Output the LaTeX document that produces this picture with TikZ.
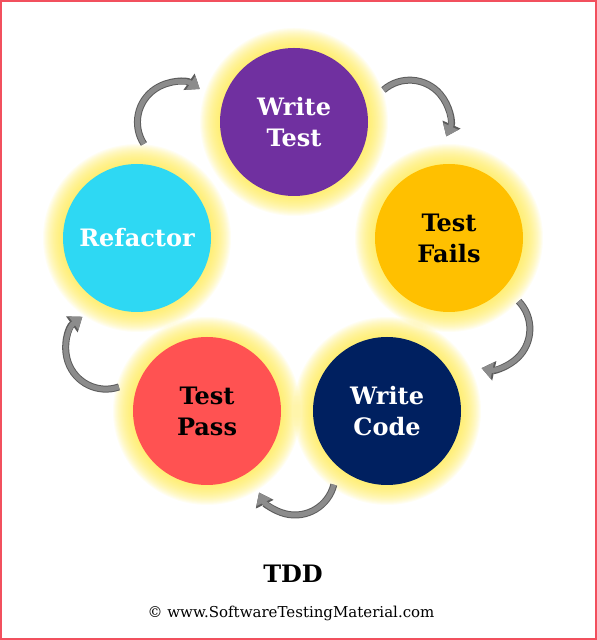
\documentclass[tikz,border=0pt]{standalone}
\usepackage{fontspec}
\setmainfont{DejaVu Serif}
\usetikzlibrary{arrows.meta}

\definecolor{testpurple}{HTML}{7030A0}
\definecolor{failgold}{HTML}{FFC000}
\definecolor{codenavy}{HTML}{002060}
\definecolor{passcoral}{HTML}{FF5252}
\definecolor{refcyan}{HTML}{2ED8F3}
\definecolor{glowyellow}{HTML}{FFE94A}
\definecolor{arrowfill}{HTML}{8C8C8C}
\definecolor{arrowedge}{HTML}{5C5C5C}
\definecolor{framered}{HTML}{F2505E}

\begin{document}
\begin{tikzpicture}[
		x=1pt, y=1pt,
		phase/.style={
			circle,
			minimum size=148pt,
			inner sep=0pt,
			align=center,
			font=\fontsize{24}{31}\selectfont\bfseries
		},
		shaftout/.style={line width=7pt, arrowedge, -{Triangle[length=13pt, width=19pt]}},
		shaftin/.style={line width=5pt, arrowfill, -{Triangle[length=11pt, width=16pt]}}
		]
		
		% Page and frame
		\useasboundingbox (0,0) rectangle (597,640);
		\draw[framered, line width=2pt] (1,1) rectangle (596,639);
		
		% Centre of the cycle
		\coordinate (hub) at (295,356);
		
		% Phase positions
		\coordinate (pwtest) at (294,518);
		\coordinate (ptfails) at (449,402);
		\coordinate (pwcode) at (387,229);
		\coordinate (ptpass) at (207,229);
		\coordinate (prefac) at (137,402);
		
		% Yellow glow
		\foreach \p in {pwtest,ptfails,pwcode,ptpass,prefac}
		\foreach \r in {94,93,...,75}
		\fill[glowyellow, opacity=0.065] (\p) circle (\r);
		
		% Phases
		\node[phase, fill=testpurple, text=white] (wtest) at (pwtest) {Write\\Test};
		\node[phase, fill=failgold, text=black] (tfails) at (ptfails) {Test\\Fails};
		\node[phase, fill=codenavy, text=white] (wcode) at (pwcode) {Write\\Code};
		\node[phase, fill=passcoral, text=black] (tpass) at (ptpass) {Test\\Pass};
		\node[phase, fill=refcyan, text=white] (refac) at (prefac) {Refactor};
		
		% Curved arrows between the phases
		\foreach \th/\d/\sa/\ea in {126/200/213/56, 55/200/131/-24, -13/200/44/-102, -90/191/-14/-154, 199/200/289/126}{
			\draw[shaftout] (hub) ++(\th:\d) ++(\sa:40) arc[start angle=\sa, end angle=\ea, radius=40];
			\draw[shaftin] (hub) ++(\th:\d) ++(\sa:40) arc[start angle=\sa, end angle=\ea, radius=40];
		}
		
		% Caption
		\node[font=\fontsize{24}{28}\selectfont\bfseries] (title) at (293,66) {TDD};
		\node[font=\fontsize{15}{18}\selectfont] (credit) at (291,27) {\textcopyright{} www.SoftwareTestingMaterial.com};
		
	\end{tikzpicture}
\end{document}
